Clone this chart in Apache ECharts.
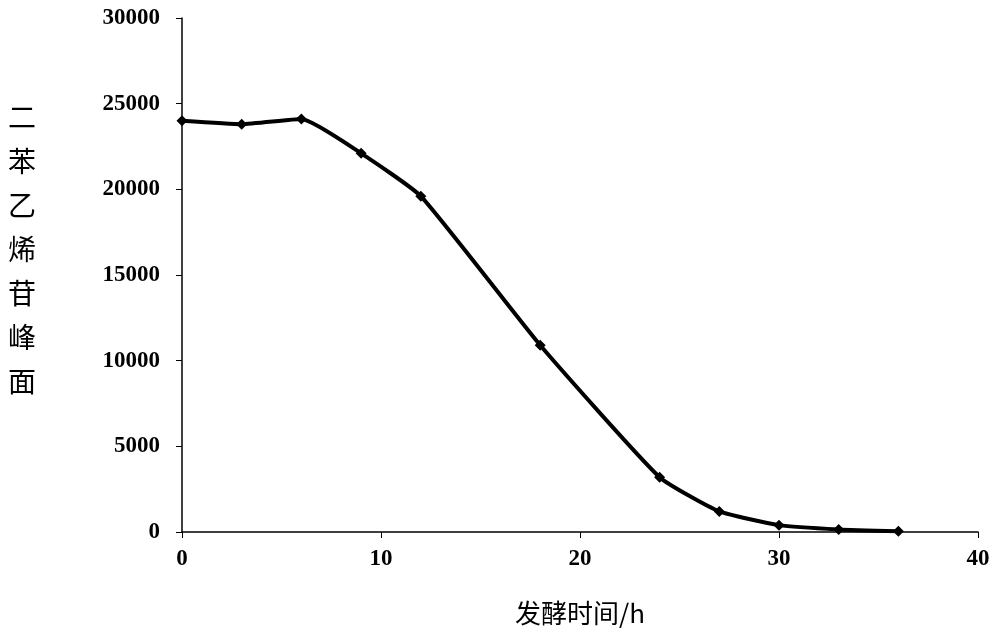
<!DOCTYPE html>
<html><head><meta charset="utf-8">
<script src="https://cdn.jsdelivr.net/npm/echarts@6/dist/echarts.min.js"></script>
<style>html,body{margin:0;padding:0;background:#fff}#c{width:1000px;height:643px}</style>
</head><body><div id="c"></div>
<script>
const hours = [0, 3, 6, 9, 12, 18, 24, 27, 30, 33, 36];
const peakArea = [24000, 23800, 24100, 22100, 19600, 10900, 3200, 1200, 400, 150, 50];
const xTitle = '发酵时间/h';
const yTitle = '二\n苯\n乙\n烯\n苷\n峰\n面';
const chart = echarts.init(document.getElementById('c'));
const lab = {color:'#000', fontFamily:'Liberation Serif', fontWeight:'bold', fontSize:23};
chart.setOption({
  animation:false,
  grid:{left:182, right:22, top:18, bottom:111},
  xAxis:{type:'value', min:0, max:40, interval:10,
    axisLine:{lineStyle:{color:'#000', width:1.5}}, axisTick:{show:true, length:6, lineStyle:{color:'#000'}},
    splitLine:{show:false}, axisLabel:Object.assign({margin:16, formatter:v=>String(v)}, lab),
    name:xTitle, nameLocation:'middle', nameGap:68,
    nameTextStyle:{color:'#000', fontSize:26, fontFamily:'Noto Sans CJK SC'}},
  yAxis:{type:'value', min:0, max:30000, interval:5000,
    axisLine:{show:true, lineStyle:{color:'#000', width:1.5}}, axisTick:{show:true, length:6, lineStyle:{color:'#000'}},
    splitLine:{show:false}, axisLabel:Object.assign({margin:22, formatter:v=>String(v)}, lab)},
  graphic:[{type:'text', left:8, top:95, style:{text:yTitle, fontSize:28, lineHeight:44, fill:'#000', fontFamily:'Noto Sans CJK SC'}}],
  series:[{type:'line', data:hours.map((h,i)=>[h, peakArea[i]]), smooth:0.15,
    symbol:'diamond', symbolSize:11, lineStyle:{color:'#000', width:4}, itemStyle:{color:'#000'}}]
});
</script></body></html>
